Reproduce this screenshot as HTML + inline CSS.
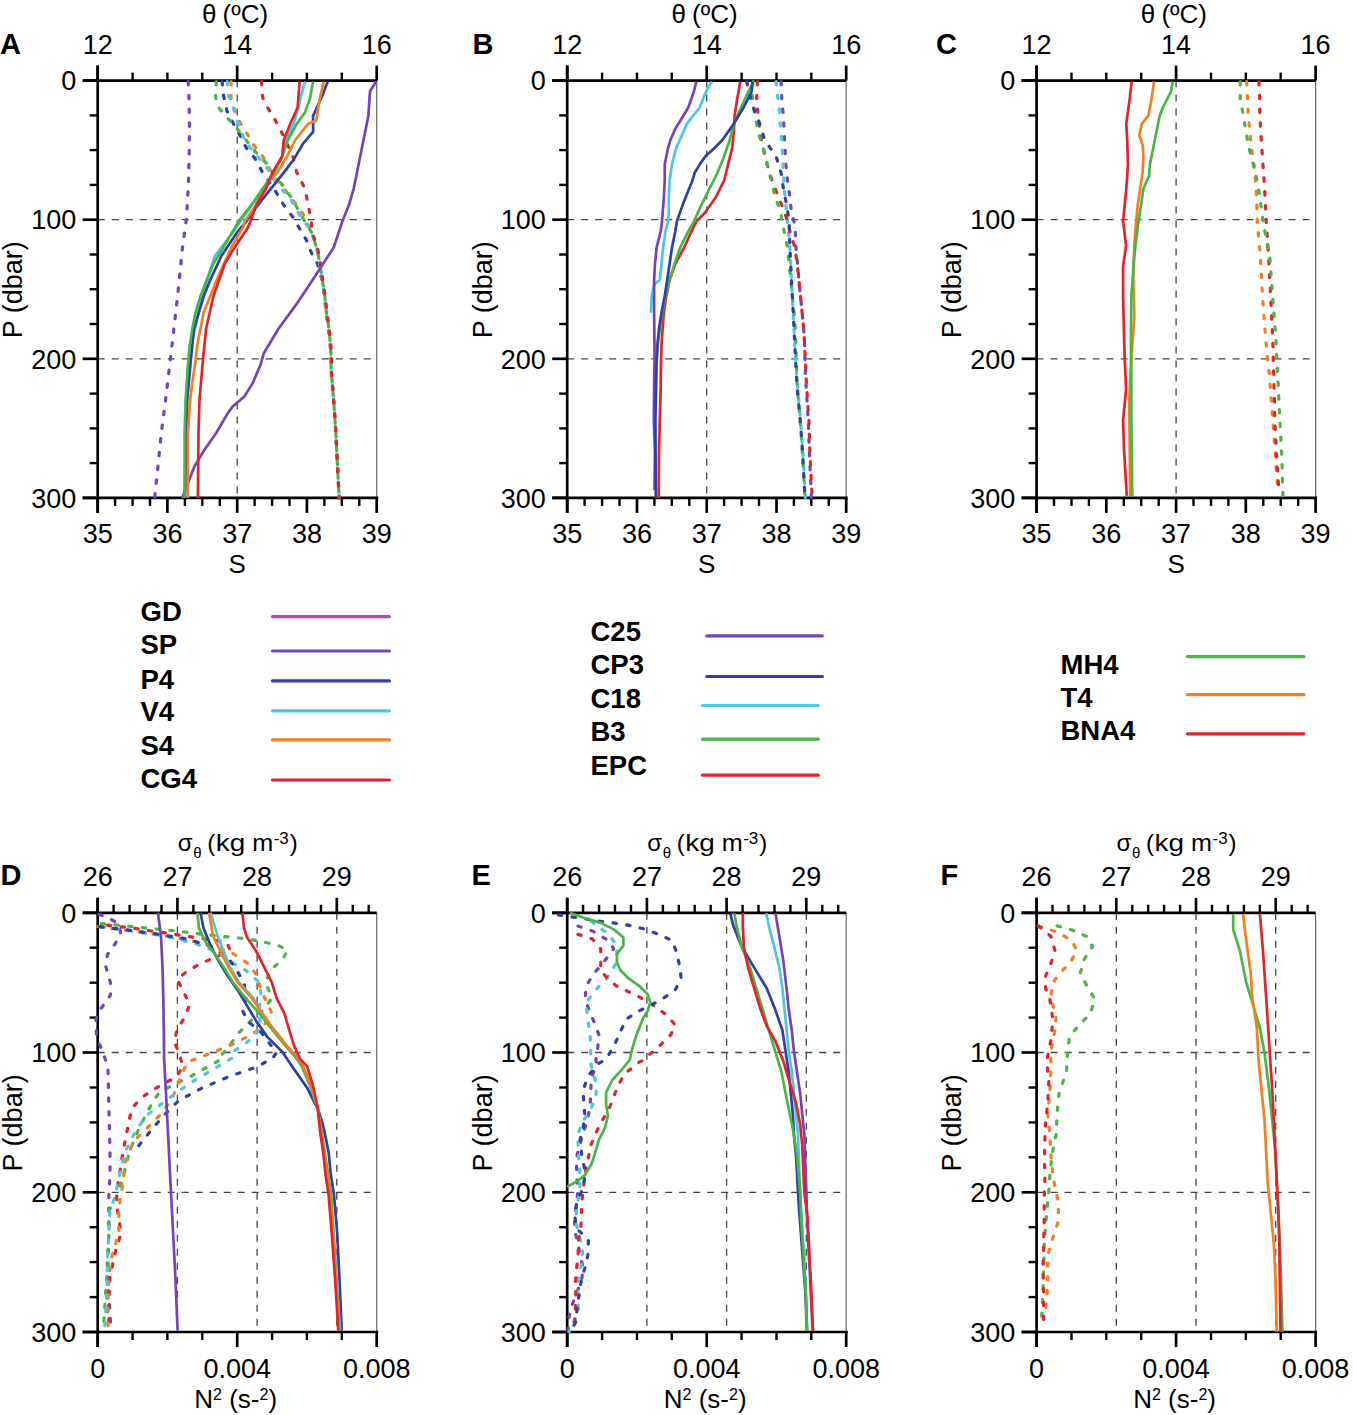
<!DOCTYPE html>
<html><head><meta charset="utf-8"><style>
html,body{margin:0;padding:0;background:#fff;width:1353px;height:1415px;overflow:hidden}
svg{display:block;font-family:"Liberation Sans", sans-serif}
</style></head><body><svg width="1353" height="1415" viewBox="0 0 1353 1415" font-family="Liberation Sans, sans-serif" fill="#000"><line x1="97.7" y1="219.7" x2="376.7" y2="219.7" stroke="#444" stroke-width="1.3" stroke-dasharray="7 7"/><line x1="97.7" y1="358.8" x2="376.7" y2="358.8" stroke="#444" stroke-width="1.3" stroke-dasharray="7 7"/><line x1="237.2" y1="80.6" x2="237.2" y2="497.9" stroke="#444" stroke-width="1.3" stroke-dasharray="7 7"/><line x1="376.7" y1="80.6" x2="376.7" y2="497.9" stroke="#666" stroke-width="1.2" /><line x1="82.7" y1="80.6" x2="376.7" y2="80.6" stroke="#000" stroke-width="2.7" /><line x1="82.7" y1="497.9" x2="378.2" y2="497.9" stroke="#000" stroke-width="2.7" /><line x1="97.7" y1="65.6" x2="97.7" y2="512.9" stroke="#000" stroke-width="2.7" /><line x1="97.7" y1="65.6" x2="97.7" y2="80.6" stroke="#000" stroke-width="2.7" /><line x1="132.6" y1="72.6" x2="132.6" y2="80.6" stroke="#000" stroke-width="2.4" /><line x1="167.4" y1="72.6" x2="167.4" y2="80.6" stroke="#000" stroke-width="2.4" /><line x1="202.3" y1="72.6" x2="202.3" y2="80.6" stroke="#000" stroke-width="2.4" /><line x1="237.2" y1="65.6" x2="237.2" y2="80.6" stroke="#000" stroke-width="2.7" /><line x1="272.1" y1="72.6" x2="272.1" y2="80.6" stroke="#000" stroke-width="2.4" /><line x1="306.9" y1="72.6" x2="306.9" y2="80.6" stroke="#000" stroke-width="2.4" /><line x1="341.8" y1="72.6" x2="341.8" y2="80.6" stroke="#000" stroke-width="2.4" /><line x1="376.7" y1="65.6" x2="376.7" y2="80.6" stroke="#000" stroke-width="2.7" /><line x1="97.7" y1="497.9" x2="97.7" y2="512.9" stroke="#000" stroke-width="2.7" /><line x1="115.1" y1="497.9" x2="115.1" y2="505.9" stroke="#000" stroke-width="2.4" /><line x1="132.6" y1="497.9" x2="132.6" y2="505.9" stroke="#000" stroke-width="2.4" /><line x1="150.0" y1="497.9" x2="150.0" y2="505.9" stroke="#000" stroke-width="2.4" /><line x1="167.4" y1="497.9" x2="167.4" y2="512.9" stroke="#000" stroke-width="2.7" /><line x1="184.9" y1="497.9" x2="184.9" y2="505.9" stroke="#000" stroke-width="2.4" /><line x1="202.3" y1="497.9" x2="202.3" y2="505.9" stroke="#000" stroke-width="2.4" /><line x1="219.8" y1="497.9" x2="219.8" y2="505.9" stroke="#000" stroke-width="2.4" /><line x1="237.2" y1="497.9" x2="237.2" y2="512.9" stroke="#000" stroke-width="2.7" /><line x1="254.6" y1="497.9" x2="254.6" y2="505.9" stroke="#000" stroke-width="2.4" /><line x1="272.1" y1="497.9" x2="272.1" y2="505.9" stroke="#000" stroke-width="2.4" /><line x1="289.5" y1="497.9" x2="289.5" y2="505.9" stroke="#000" stroke-width="2.4" /><line x1="306.9" y1="497.9" x2="306.9" y2="512.9" stroke="#000" stroke-width="2.7" /><line x1="324.4" y1="497.9" x2="324.4" y2="505.9" stroke="#000" stroke-width="2.4" /><line x1="341.8" y1="497.9" x2="341.8" y2="505.9" stroke="#000" stroke-width="2.4" /><line x1="359.3" y1="497.9" x2="359.3" y2="505.9" stroke="#000" stroke-width="2.4" /><line x1="376.7" y1="497.9" x2="376.7" y2="512.9" stroke="#000" stroke-width="2.7" /><line x1="82.7" y1="80.6" x2="97.7" y2="80.6" stroke="#000" stroke-width="2.7" /><line x1="89.7" y1="115.4" x2="97.7" y2="115.4" stroke="#000" stroke-width="2.4" /><line x1="89.7" y1="150.1" x2="97.7" y2="150.1" stroke="#000" stroke-width="2.4" /><line x1="89.7" y1="184.9" x2="97.7" y2="184.9" stroke="#000" stroke-width="2.4" /><line x1="82.7" y1="219.7" x2="97.7" y2="219.7" stroke="#000" stroke-width="2.7" /><line x1="89.7" y1="254.5" x2="97.7" y2="254.5" stroke="#000" stroke-width="2.4" /><line x1="89.7" y1="289.2" x2="97.7" y2="289.2" stroke="#000" stroke-width="2.4" /><line x1="89.7" y1="324.0" x2="97.7" y2="324.0" stroke="#000" stroke-width="2.4" /><line x1="82.7" y1="358.8" x2="97.7" y2="358.8" stroke="#000" stroke-width="2.7" /><line x1="89.7" y1="393.6" x2="97.7" y2="393.6" stroke="#000" stroke-width="2.4" /><line x1="89.7" y1="428.4" x2="97.7" y2="428.4" stroke="#000" stroke-width="2.4" /><line x1="89.7" y1="463.1" x2="97.7" y2="463.1" stroke="#000" stroke-width="2.4" /><line x1="82.7" y1="497.9" x2="97.7" y2="497.9" stroke="#000" stroke-width="2.7" /><text x="201.9" y="23.2" font-size="26" text-anchor="start" font-weight="normal" >θ</text><text x="222.5" y="23.3" font-size="26" text-anchor="start" font-weight="normal" >(ºC)</text><text x="97.7" y="53.7" font-size="27" text-anchor="middle" font-weight="normal" >12</text><text x="237.2" y="53.7" font-size="27" text-anchor="middle" font-weight="normal" >14</text><text x="376.7" y="53.7" font-size="27" text-anchor="middle" font-weight="normal" >16</text><text x="76.4" y="90.3" font-size="27" text-anchor="end" font-weight="normal" >0</text><text x="76.4" y="229.4" font-size="27" text-anchor="end" font-weight="normal" >100</text><text x="76.4" y="368.5" font-size="27" text-anchor="end" font-weight="normal" >200</text><text x="76.4" y="507.6" font-size="27" text-anchor="end" font-weight="normal" >300</text><text x="97.7" y="543.4" font-size="27" text-anchor="middle" font-weight="normal" >35</text><text x="167.4" y="543.4" font-size="27" text-anchor="middle" font-weight="normal" >36</text><text x="237.2" y="543.4" font-size="27" text-anchor="middle" font-weight="normal" >37</text><text x="306.9" y="543.4" font-size="27" text-anchor="middle" font-weight="normal" >38</text><text x="376.7" y="543.4" font-size="27" text-anchor="middle" font-weight="normal" >39</text><text x="237.2" y="573.4" font-size="26" text-anchor="middle" font-weight="normal" >S</text><text x="0" y="0" font-size="27" text-anchor="middle" transform="translate(22.4,289.8) rotate(-90)">P (dbar)</text><text x="0.0" y="54.0" font-size="29" text-anchor="start" font-weight="bold" >A</text><line x1="567.2" y1="219.7" x2="846.2" y2="219.7" stroke="#444" stroke-width="1.3" stroke-dasharray="7 7"/><line x1="567.2" y1="358.8" x2="846.2" y2="358.8" stroke="#444" stroke-width="1.3" stroke-dasharray="7 7"/><line x1="706.7" y1="80.6" x2="706.7" y2="497.9" stroke="#444" stroke-width="1.3" stroke-dasharray="7 7"/><line x1="846.2" y1="80.6" x2="846.2" y2="497.9" stroke="#666" stroke-width="1.2" /><line x1="552.2" y1="80.6" x2="846.2" y2="80.6" stroke="#000" stroke-width="2.7" /><line x1="552.2" y1="497.9" x2="847.7" y2="497.9" stroke="#000" stroke-width="2.7" /><line x1="567.2" y1="65.6" x2="567.2" y2="512.9" stroke="#000" stroke-width="2.7" /><line x1="567.2" y1="65.6" x2="567.2" y2="80.6" stroke="#000" stroke-width="2.7" /><line x1="602.1" y1="72.6" x2="602.1" y2="80.6" stroke="#000" stroke-width="2.4" /><line x1="637.0" y1="72.6" x2="637.0" y2="80.6" stroke="#000" stroke-width="2.4" /><line x1="671.8" y1="72.6" x2="671.8" y2="80.6" stroke="#000" stroke-width="2.4" /><line x1="706.7" y1="65.6" x2="706.7" y2="80.6" stroke="#000" stroke-width="2.7" /><line x1="741.6" y1="72.6" x2="741.6" y2="80.6" stroke="#000" stroke-width="2.4" /><line x1="776.5" y1="72.6" x2="776.5" y2="80.6" stroke="#000" stroke-width="2.4" /><line x1="811.3" y1="72.6" x2="811.3" y2="80.6" stroke="#000" stroke-width="2.4" /><line x1="846.2" y1="65.6" x2="846.2" y2="80.6" stroke="#000" stroke-width="2.7" /><line x1="567.2" y1="497.9" x2="567.2" y2="512.9" stroke="#000" stroke-width="2.7" /><line x1="584.6" y1="497.9" x2="584.6" y2="505.9" stroke="#000" stroke-width="2.4" /><line x1="602.1" y1="497.9" x2="602.1" y2="505.9" stroke="#000" stroke-width="2.4" /><line x1="619.5" y1="497.9" x2="619.5" y2="505.9" stroke="#000" stroke-width="2.4" /><line x1="637.0" y1="497.9" x2="637.0" y2="512.9" stroke="#000" stroke-width="2.7" /><line x1="654.4" y1="497.9" x2="654.4" y2="505.9" stroke="#000" stroke-width="2.4" /><line x1="671.8" y1="497.9" x2="671.8" y2="505.9" stroke="#000" stroke-width="2.4" /><line x1="689.3" y1="497.9" x2="689.3" y2="505.9" stroke="#000" stroke-width="2.4" /><line x1="706.7" y1="497.9" x2="706.7" y2="512.9" stroke="#000" stroke-width="2.7" /><line x1="724.1" y1="497.9" x2="724.1" y2="505.9" stroke="#000" stroke-width="2.4" /><line x1="741.6" y1="497.9" x2="741.6" y2="505.9" stroke="#000" stroke-width="2.4" /><line x1="759.0" y1="497.9" x2="759.0" y2="505.9" stroke="#000" stroke-width="2.4" /><line x1="776.5" y1="497.9" x2="776.5" y2="512.9" stroke="#000" stroke-width="2.7" /><line x1="793.9" y1="497.9" x2="793.9" y2="505.9" stroke="#000" stroke-width="2.4" /><line x1="811.3" y1="497.9" x2="811.3" y2="505.9" stroke="#000" stroke-width="2.4" /><line x1="828.8" y1="497.9" x2="828.8" y2="505.9" stroke="#000" stroke-width="2.4" /><line x1="846.2" y1="497.9" x2="846.2" y2="512.9" stroke="#000" stroke-width="2.7" /><line x1="552.2" y1="80.6" x2="567.2" y2="80.6" stroke="#000" stroke-width="2.7" /><line x1="559.2" y1="115.4" x2="567.2" y2="115.4" stroke="#000" stroke-width="2.4" /><line x1="559.2" y1="150.1" x2="567.2" y2="150.1" stroke="#000" stroke-width="2.4" /><line x1="559.2" y1="184.9" x2="567.2" y2="184.9" stroke="#000" stroke-width="2.4" /><line x1="552.2" y1="219.7" x2="567.2" y2="219.7" stroke="#000" stroke-width="2.7" /><line x1="559.2" y1="254.5" x2="567.2" y2="254.5" stroke="#000" stroke-width="2.4" /><line x1="559.2" y1="289.2" x2="567.2" y2="289.2" stroke="#000" stroke-width="2.4" /><line x1="559.2" y1="324.0" x2="567.2" y2="324.0" stroke="#000" stroke-width="2.4" /><line x1="552.2" y1="358.8" x2="567.2" y2="358.8" stroke="#000" stroke-width="2.7" /><line x1="559.2" y1="393.6" x2="567.2" y2="393.6" stroke="#000" stroke-width="2.4" /><line x1="559.2" y1="428.4" x2="567.2" y2="428.4" stroke="#000" stroke-width="2.4" /><line x1="559.2" y1="463.1" x2="567.2" y2="463.1" stroke="#000" stroke-width="2.4" /><line x1="552.2" y1="497.9" x2="567.2" y2="497.9" stroke="#000" stroke-width="2.7" /><text x="671.4" y="23.2" font-size="26" text-anchor="start" font-weight="normal" >θ</text><text x="692.0" y="23.3" font-size="26" text-anchor="start" font-weight="normal" >(ºC)</text><text x="567.2" y="53.7" font-size="27" text-anchor="middle" font-weight="normal" >12</text><text x="706.7" y="53.7" font-size="27" text-anchor="middle" font-weight="normal" >14</text><text x="846.2" y="53.7" font-size="27" text-anchor="middle" font-weight="normal" >16</text><text x="545.9" y="90.3" font-size="27" text-anchor="end" font-weight="normal" >0</text><text x="545.9" y="229.4" font-size="27" text-anchor="end" font-weight="normal" >100</text><text x="545.9" y="368.5" font-size="27" text-anchor="end" font-weight="normal" >200</text><text x="545.9" y="507.6" font-size="27" text-anchor="end" font-weight="normal" >300</text><text x="567.2" y="543.4" font-size="27" text-anchor="middle" font-weight="normal" >35</text><text x="637.0" y="543.4" font-size="27" text-anchor="middle" font-weight="normal" >36</text><text x="706.7" y="543.4" font-size="27" text-anchor="middle" font-weight="normal" >37</text><text x="776.5" y="543.4" font-size="27" text-anchor="middle" font-weight="normal" >38</text><text x="846.2" y="543.4" font-size="27" text-anchor="middle" font-weight="normal" >39</text><text x="706.7" y="573.4" font-size="26" text-anchor="middle" font-weight="normal" >S</text><text x="0" y="0" font-size="27" text-anchor="middle" transform="translate(491.9,289.8) rotate(-90)">P (dbar)</text><text x="472.5" y="54.0" font-size="29" text-anchor="start" font-weight="bold" >B</text><line x1="1036.6" y1="219.7" x2="1315.6" y2="219.7" stroke="#444" stroke-width="1.3" stroke-dasharray="7 7"/><line x1="1036.6" y1="358.8" x2="1315.6" y2="358.8" stroke="#444" stroke-width="1.3" stroke-dasharray="7 7"/><line x1="1176.1" y1="80.6" x2="1176.1" y2="497.9" stroke="#444" stroke-width="1.3" stroke-dasharray="7 7"/><line x1="1315.6" y1="80.6" x2="1315.6" y2="497.9" stroke="#666" stroke-width="1.2" /><line x1="1021.6" y1="80.6" x2="1315.6" y2="80.6" stroke="#000" stroke-width="2.7" /><line x1="1021.6" y1="497.9" x2="1317.1" y2="497.9" stroke="#000" stroke-width="2.7" /><line x1="1036.6" y1="65.6" x2="1036.6" y2="512.9" stroke="#000" stroke-width="2.7" /><line x1="1036.6" y1="65.6" x2="1036.6" y2="80.6" stroke="#000" stroke-width="2.7" /><line x1="1071.5" y1="72.6" x2="1071.5" y2="80.6" stroke="#000" stroke-width="2.4" /><line x1="1106.3" y1="72.6" x2="1106.3" y2="80.6" stroke="#000" stroke-width="2.4" /><line x1="1141.2" y1="72.6" x2="1141.2" y2="80.6" stroke="#000" stroke-width="2.4" /><line x1="1176.1" y1="65.6" x2="1176.1" y2="80.6" stroke="#000" stroke-width="2.7" /><line x1="1211.0" y1="72.6" x2="1211.0" y2="80.6" stroke="#000" stroke-width="2.4" /><line x1="1245.8" y1="72.6" x2="1245.8" y2="80.6" stroke="#000" stroke-width="2.4" /><line x1="1280.7" y1="72.6" x2="1280.7" y2="80.6" stroke="#000" stroke-width="2.4" /><line x1="1315.6" y1="65.6" x2="1315.6" y2="80.6" stroke="#000" stroke-width="2.7" /><line x1="1036.6" y1="497.9" x2="1036.6" y2="512.9" stroke="#000" stroke-width="2.7" /><line x1="1054.0" y1="497.9" x2="1054.0" y2="505.9" stroke="#000" stroke-width="2.4" /><line x1="1071.5" y1="497.9" x2="1071.5" y2="505.9" stroke="#000" stroke-width="2.4" /><line x1="1088.9" y1="497.9" x2="1088.9" y2="505.9" stroke="#000" stroke-width="2.4" /><line x1="1106.3" y1="497.9" x2="1106.3" y2="512.9" stroke="#000" stroke-width="2.7" /><line x1="1123.8" y1="497.9" x2="1123.8" y2="505.9" stroke="#000" stroke-width="2.4" /><line x1="1141.2" y1="497.9" x2="1141.2" y2="505.9" stroke="#000" stroke-width="2.4" /><line x1="1158.7" y1="497.9" x2="1158.7" y2="505.9" stroke="#000" stroke-width="2.4" /><line x1="1176.1" y1="497.9" x2="1176.1" y2="512.9" stroke="#000" stroke-width="2.7" /><line x1="1193.5" y1="497.9" x2="1193.5" y2="505.9" stroke="#000" stroke-width="2.4" /><line x1="1211.0" y1="497.9" x2="1211.0" y2="505.9" stroke="#000" stroke-width="2.4" /><line x1="1228.4" y1="497.9" x2="1228.4" y2="505.9" stroke="#000" stroke-width="2.4" /><line x1="1245.8" y1="497.9" x2="1245.8" y2="512.9" stroke="#000" stroke-width="2.7" /><line x1="1263.3" y1="497.9" x2="1263.3" y2="505.9" stroke="#000" stroke-width="2.4" /><line x1="1280.7" y1="497.9" x2="1280.7" y2="505.9" stroke="#000" stroke-width="2.4" /><line x1="1298.2" y1="497.9" x2="1298.2" y2="505.9" stroke="#000" stroke-width="2.4" /><line x1="1315.6" y1="497.9" x2="1315.6" y2="512.9" stroke="#000" stroke-width="2.7" /><line x1="1021.6" y1="80.6" x2="1036.6" y2="80.6" stroke="#000" stroke-width="2.7" /><line x1="1028.6" y1="115.4" x2="1036.6" y2="115.4" stroke="#000" stroke-width="2.4" /><line x1="1028.6" y1="150.1" x2="1036.6" y2="150.1" stroke="#000" stroke-width="2.4" /><line x1="1028.6" y1="184.9" x2="1036.6" y2="184.9" stroke="#000" stroke-width="2.4" /><line x1="1021.6" y1="219.7" x2="1036.6" y2="219.7" stroke="#000" stroke-width="2.7" /><line x1="1028.6" y1="254.5" x2="1036.6" y2="254.5" stroke="#000" stroke-width="2.4" /><line x1="1028.6" y1="289.2" x2="1036.6" y2="289.2" stroke="#000" stroke-width="2.4" /><line x1="1028.6" y1="324.0" x2="1036.6" y2="324.0" stroke="#000" stroke-width="2.4" /><line x1="1021.6" y1="358.8" x2="1036.6" y2="358.8" stroke="#000" stroke-width="2.7" /><line x1="1028.6" y1="393.6" x2="1036.6" y2="393.6" stroke="#000" stroke-width="2.4" /><line x1="1028.6" y1="428.4" x2="1036.6" y2="428.4" stroke="#000" stroke-width="2.4" /><line x1="1028.6" y1="463.1" x2="1036.6" y2="463.1" stroke="#000" stroke-width="2.4" /><line x1="1021.6" y1="497.9" x2="1036.6" y2="497.9" stroke="#000" stroke-width="2.7" /><text x="1140.8" y="23.2" font-size="26" text-anchor="start" font-weight="normal" >θ</text><text x="1161.4" y="23.3" font-size="26" text-anchor="start" font-weight="normal" >(ºC)</text><text x="1036.6" y="53.7" font-size="27" text-anchor="middle" font-weight="normal" >12</text><text x="1176.1" y="53.7" font-size="27" text-anchor="middle" font-weight="normal" >14</text><text x="1315.6" y="53.7" font-size="27" text-anchor="middle" font-weight="normal" >16</text><text x="1015.3" y="90.3" font-size="27" text-anchor="end" font-weight="normal" >0</text><text x="1015.3" y="229.4" font-size="27" text-anchor="end" font-weight="normal" >100</text><text x="1015.3" y="368.5" font-size="27" text-anchor="end" font-weight="normal" >200</text><text x="1015.3" y="507.6" font-size="27" text-anchor="end" font-weight="normal" >300</text><text x="1036.6" y="543.4" font-size="27" text-anchor="middle" font-weight="normal" >35</text><text x="1106.3" y="543.4" font-size="27" text-anchor="middle" font-weight="normal" >36</text><text x="1176.1" y="543.4" font-size="27" text-anchor="middle" font-weight="normal" >37</text><text x="1245.8" y="543.4" font-size="27" text-anchor="middle" font-weight="normal" >38</text><text x="1315.6" y="543.4" font-size="27" text-anchor="middle" font-weight="normal" >39</text><text x="1176.1" y="573.4" font-size="26" text-anchor="middle" font-weight="normal" >S</text><text x="0" y="0" font-size="27" text-anchor="middle" transform="translate(961.3,289.8) rotate(-90)">P (dbar)</text><text x="936.0" y="54.0" font-size="29" text-anchor="start" font-weight="bold" >C</text><line x1="97.7" y1="1052.5" x2="376.7" y2="1052.5" stroke="#444" stroke-width="1.3" stroke-dasharray="7 7"/><line x1="97.7" y1="1192.3" x2="376.7" y2="1192.3" stroke="#444" stroke-width="1.3" stroke-dasharray="7 7"/><line x1="177.4" y1="912.8" x2="177.4" y2="1332.0" stroke="#444" stroke-width="1.3" stroke-dasharray="7 7"/><line x1="257.1" y1="912.8" x2="257.1" y2="1332.0" stroke="#444" stroke-width="1.3" stroke-dasharray="7 7"/><line x1="336.8" y1="912.8" x2="336.8" y2="1332.0" stroke="#444" stroke-width="1.3" stroke-dasharray="7 7"/><line x1="376.7" y1="912.8" x2="376.7" y2="1332.0" stroke="#666" stroke-width="1.2" /><line x1="82.7" y1="912.8" x2="376.7" y2="912.8" stroke="#000" stroke-width="2.7" /><line x1="82.7" y1="1332.0" x2="378.2" y2="1332.0" stroke="#000" stroke-width="2.7" /><line x1="97.7" y1="897.8" x2="97.7" y2="1347.0" stroke="#000" stroke-width="2.7" /><line x1="97.7" y1="897.8" x2="97.7" y2="912.8" stroke="#000" stroke-width="2.7" /><line x1="113.6" y1="904.8" x2="113.6" y2="912.8" stroke="#000" stroke-width="2.4" /><line x1="129.6" y1="904.8" x2="129.6" y2="912.8" stroke="#000" stroke-width="2.4" /><line x1="145.5" y1="904.8" x2="145.5" y2="912.8" stroke="#000" stroke-width="2.4" /><line x1="161.5" y1="904.8" x2="161.5" y2="912.8" stroke="#000" stroke-width="2.4" /><line x1="177.4" y1="897.8" x2="177.4" y2="912.8" stroke="#000" stroke-width="2.7" /><line x1="193.4" y1="904.8" x2="193.4" y2="912.8" stroke="#000" stroke-width="2.4" /><line x1="209.3" y1="904.8" x2="209.3" y2="912.8" stroke="#000" stroke-width="2.4" /><line x1="225.2" y1="904.8" x2="225.2" y2="912.8" stroke="#000" stroke-width="2.4" /><line x1="241.2" y1="904.8" x2="241.2" y2="912.8" stroke="#000" stroke-width="2.4" /><line x1="257.1" y1="897.8" x2="257.1" y2="912.8" stroke="#000" stroke-width="2.7" /><line x1="273.1" y1="904.8" x2="273.1" y2="912.8" stroke="#000" stroke-width="2.4" /><line x1="289.0" y1="904.8" x2="289.0" y2="912.8" stroke="#000" stroke-width="2.4" /><line x1="305.0" y1="904.8" x2="305.0" y2="912.8" stroke="#000" stroke-width="2.4" /><line x1="320.9" y1="904.8" x2="320.9" y2="912.8" stroke="#000" stroke-width="2.4" /><line x1="336.8" y1="897.8" x2="336.8" y2="912.8" stroke="#000" stroke-width="2.7" /><line x1="352.8" y1="904.8" x2="352.8" y2="912.8" stroke="#000" stroke-width="2.4" /><line x1="368.7" y1="904.8" x2="368.7" y2="912.8" stroke="#000" stroke-width="2.4" /><line x1="97.7" y1="1332.0" x2="97.7" y2="1347.0" stroke="#000" stroke-width="2.7" /><line x1="132.6" y1="1332.0" x2="132.6" y2="1340.0" stroke="#000" stroke-width="2.4" /><line x1="167.4" y1="1332.0" x2="167.4" y2="1340.0" stroke="#000" stroke-width="2.4" /><line x1="202.3" y1="1332.0" x2="202.3" y2="1340.0" stroke="#000" stroke-width="2.4" /><line x1="237.2" y1="1332.0" x2="237.2" y2="1347.0" stroke="#000" stroke-width="2.7" /><line x1="272.1" y1="1332.0" x2="272.1" y2="1340.0" stroke="#000" stroke-width="2.4" /><line x1="306.9" y1="1332.0" x2="306.9" y2="1340.0" stroke="#000" stroke-width="2.4" /><line x1="341.8" y1="1332.0" x2="341.8" y2="1340.0" stroke="#000" stroke-width="2.4" /><line x1="376.7" y1="1332.0" x2="376.7" y2="1347.0" stroke="#000" stroke-width="2.7" /><line x1="82.7" y1="912.8" x2="97.7" y2="912.8" stroke="#000" stroke-width="2.7" /><line x1="89.7" y1="947.7" x2="97.7" y2="947.7" stroke="#000" stroke-width="2.4" /><line x1="89.7" y1="982.7" x2="97.7" y2="982.7" stroke="#000" stroke-width="2.4" /><line x1="89.7" y1="1017.6" x2="97.7" y2="1017.6" stroke="#000" stroke-width="2.4" /><line x1="82.7" y1="1052.5" x2="97.7" y2="1052.5" stroke="#000" stroke-width="2.7" /><line x1="89.7" y1="1087.5" x2="97.7" y2="1087.5" stroke="#000" stroke-width="2.4" /><line x1="89.7" y1="1122.4" x2="97.7" y2="1122.4" stroke="#000" stroke-width="2.4" /><line x1="89.7" y1="1157.3" x2="97.7" y2="1157.3" stroke="#000" stroke-width="2.4" /><line x1="82.7" y1="1192.3" x2="97.7" y2="1192.3" stroke="#000" stroke-width="2.7" /><line x1="89.7" y1="1227.2" x2="97.7" y2="1227.2" stroke="#000" stroke-width="2.4" /><line x1="89.7" y1="1262.1" x2="97.7" y2="1262.1" stroke="#000" stroke-width="2.4" /><line x1="89.7" y1="1297.1" x2="97.7" y2="1297.1" stroke="#000" stroke-width="2.4" /><line x1="82.7" y1="1332.0" x2="97.7" y2="1332.0" stroke="#000" stroke-width="2.7" /><text x="177.7" y="851.4" font-size="24" text-anchor="start" font-weight="normal" >σ</text><text x="193.2" y="857.6" font-size="15" text-anchor="start" font-weight="normal" >θ</text><text x="207.2" y="851.4" font-size="24" text-anchor="start" font-weight="normal" >(</text><text x="215.7" y="851.4" font-size="24" text-anchor="start" font-weight="normal" textLength="29.5" lengthAdjust="spacingAndGlyphs">kg</text><text x="252.2" y="851.4" font-size="24" text-anchor="start" font-weight="normal" textLength="21" lengthAdjust="spacingAndGlyphs">m</text><text x="273.7" y="843.6" font-size="17" text-anchor="start" font-weight="normal" >-3</text><text x="289.7" y="851.4" font-size="24" text-anchor="start" font-weight="normal" >)</text><text x="97.7" y="886.2" font-size="27" text-anchor="middle" font-weight="normal" >26</text><text x="177.4" y="886.2" font-size="27" text-anchor="middle" font-weight="normal" >27</text><text x="257.1" y="886.2" font-size="27" text-anchor="middle" font-weight="normal" >28</text><text x="336.8" y="886.2" font-size="27" text-anchor="middle" font-weight="normal" >29</text><text x="76.4" y="922.5" font-size="27" text-anchor="end" font-weight="normal" >0</text><text x="76.4" y="1062.2" font-size="27" text-anchor="end" font-weight="normal" >100</text><text x="76.4" y="1202.0" font-size="27" text-anchor="end" font-weight="normal" >200</text><text x="76.4" y="1341.7" font-size="27" text-anchor="end" font-weight="normal" >300</text><text x="97.7" y="1377.7" font-size="27" text-anchor="middle" font-weight="normal" >0</text><text x="237.2" y="1377.7" font-size="27" text-anchor="middle" font-weight="normal" >0.004</text><text x="376.7" y="1377.7" font-size="27" text-anchor="middle" font-weight="normal" >0.008</text><text x="235.7" y="1408.3" font-size="26" text-anchor="middle">N<tspan font-size="16" dy="-8.5">2</tspan><tspan dy="8.5"> (s-</tspan><tspan font-size="16" dy="-8.5">2</tspan><tspan dy="8.5">)</tspan></text><text x="0" y="0" font-size="27" text-anchor="middle" transform="translate(22.4,1122.9) rotate(-90)">P (dbar)</text><text x="0.5" y="884.8" font-size="29" text-anchor="start" font-weight="bold" >D</text><line x1="567.2" y1="1052.5" x2="846.2" y2="1052.5" stroke="#444" stroke-width="1.3" stroke-dasharray="7 7"/><line x1="567.2" y1="1192.3" x2="846.2" y2="1192.3" stroke="#444" stroke-width="1.3" stroke-dasharray="7 7"/><line x1="646.9" y1="912.8" x2="646.9" y2="1332.0" stroke="#444" stroke-width="1.3" stroke-dasharray="7 7"/><line x1="726.6" y1="912.8" x2="726.6" y2="1332.0" stroke="#444" stroke-width="1.3" stroke-dasharray="7 7"/><line x1="806.3" y1="912.8" x2="806.3" y2="1332.0" stroke="#444" stroke-width="1.3" stroke-dasharray="7 7"/><line x1="846.2" y1="912.8" x2="846.2" y2="1332.0" stroke="#666" stroke-width="1.2" /><line x1="552.2" y1="912.8" x2="846.2" y2="912.8" stroke="#000" stroke-width="2.7" /><line x1="552.2" y1="1332.0" x2="847.7" y2="1332.0" stroke="#000" stroke-width="2.7" /><line x1="567.2" y1="897.8" x2="567.2" y2="1347.0" stroke="#000" stroke-width="2.7" /><line x1="567.2" y1="897.8" x2="567.2" y2="912.8" stroke="#000" stroke-width="2.7" /><line x1="583.1" y1="904.8" x2="583.1" y2="912.8" stroke="#000" stroke-width="2.4" /><line x1="599.1" y1="904.8" x2="599.1" y2="912.8" stroke="#000" stroke-width="2.4" /><line x1="615.0" y1="904.8" x2="615.0" y2="912.8" stroke="#000" stroke-width="2.4" /><line x1="631.0" y1="904.8" x2="631.0" y2="912.8" stroke="#000" stroke-width="2.4" /><line x1="646.9" y1="897.8" x2="646.9" y2="912.8" stroke="#000" stroke-width="2.7" /><line x1="662.9" y1="904.8" x2="662.9" y2="912.8" stroke="#000" stroke-width="2.4" /><line x1="678.8" y1="904.8" x2="678.8" y2="912.8" stroke="#000" stroke-width="2.4" /><line x1="694.7" y1="904.8" x2="694.7" y2="912.8" stroke="#000" stroke-width="2.4" /><line x1="710.7" y1="904.8" x2="710.7" y2="912.8" stroke="#000" stroke-width="2.4" /><line x1="726.6" y1="897.8" x2="726.6" y2="912.8" stroke="#000" stroke-width="2.7" /><line x1="742.6" y1="904.8" x2="742.6" y2="912.8" stroke="#000" stroke-width="2.4" /><line x1="758.5" y1="904.8" x2="758.5" y2="912.8" stroke="#000" stroke-width="2.4" /><line x1="774.5" y1="904.8" x2="774.5" y2="912.8" stroke="#000" stroke-width="2.4" /><line x1="790.4" y1="904.8" x2="790.4" y2="912.8" stroke="#000" stroke-width="2.4" /><line x1="806.3" y1="897.8" x2="806.3" y2="912.8" stroke="#000" stroke-width="2.7" /><line x1="822.3" y1="904.8" x2="822.3" y2="912.8" stroke="#000" stroke-width="2.4" /><line x1="838.2" y1="904.8" x2="838.2" y2="912.8" stroke="#000" stroke-width="2.4" /><line x1="567.2" y1="1332.0" x2="567.2" y2="1347.0" stroke="#000" stroke-width="2.7" /><line x1="602.1" y1="1332.0" x2="602.1" y2="1340.0" stroke="#000" stroke-width="2.4" /><line x1="637.0" y1="1332.0" x2="637.0" y2="1340.0" stroke="#000" stroke-width="2.4" /><line x1="671.8" y1="1332.0" x2="671.8" y2="1340.0" stroke="#000" stroke-width="2.4" /><line x1="706.7" y1="1332.0" x2="706.7" y2="1347.0" stroke="#000" stroke-width="2.7" /><line x1="741.6" y1="1332.0" x2="741.6" y2="1340.0" stroke="#000" stroke-width="2.4" /><line x1="776.5" y1="1332.0" x2="776.5" y2="1340.0" stroke="#000" stroke-width="2.4" /><line x1="811.3" y1="1332.0" x2="811.3" y2="1340.0" stroke="#000" stroke-width="2.4" /><line x1="846.2" y1="1332.0" x2="846.2" y2="1347.0" stroke="#000" stroke-width="2.7" /><line x1="552.2" y1="912.8" x2="567.2" y2="912.8" stroke="#000" stroke-width="2.7" /><line x1="559.2" y1="947.7" x2="567.2" y2="947.7" stroke="#000" stroke-width="2.4" /><line x1="559.2" y1="982.7" x2="567.2" y2="982.7" stroke="#000" stroke-width="2.4" /><line x1="559.2" y1="1017.6" x2="567.2" y2="1017.6" stroke="#000" stroke-width="2.4" /><line x1="552.2" y1="1052.5" x2="567.2" y2="1052.5" stroke="#000" stroke-width="2.7" /><line x1="559.2" y1="1087.5" x2="567.2" y2="1087.5" stroke="#000" stroke-width="2.4" /><line x1="559.2" y1="1122.4" x2="567.2" y2="1122.4" stroke="#000" stroke-width="2.4" /><line x1="559.2" y1="1157.3" x2="567.2" y2="1157.3" stroke="#000" stroke-width="2.4" /><line x1="552.2" y1="1192.3" x2="567.2" y2="1192.3" stroke="#000" stroke-width="2.7" /><line x1="559.2" y1="1227.2" x2="567.2" y2="1227.2" stroke="#000" stroke-width="2.4" /><line x1="559.2" y1="1262.1" x2="567.2" y2="1262.1" stroke="#000" stroke-width="2.4" /><line x1="559.2" y1="1297.1" x2="567.2" y2="1297.1" stroke="#000" stroke-width="2.4" /><line x1="552.2" y1="1332.0" x2="567.2" y2="1332.0" stroke="#000" stroke-width="2.7" /><text x="647.2" y="851.4" font-size="24" text-anchor="start" font-weight="normal" >σ</text><text x="662.7" y="857.6" font-size="15" text-anchor="start" font-weight="normal" >θ</text><text x="676.7" y="851.4" font-size="24" text-anchor="start" font-weight="normal" >(</text><text x="685.2" y="851.4" font-size="24" text-anchor="start" font-weight="normal" textLength="29.5" lengthAdjust="spacingAndGlyphs">kg</text><text x="721.7" y="851.4" font-size="24" text-anchor="start" font-weight="normal" textLength="21" lengthAdjust="spacingAndGlyphs">m</text><text x="743.2" y="843.6" font-size="17" text-anchor="start" font-weight="normal" >-3</text><text x="759.2" y="851.4" font-size="24" text-anchor="start" font-weight="normal" >)</text><text x="567.2" y="886.2" font-size="27" text-anchor="middle" font-weight="normal" >26</text><text x="646.9" y="886.2" font-size="27" text-anchor="middle" font-weight="normal" >27</text><text x="726.6" y="886.2" font-size="27" text-anchor="middle" font-weight="normal" >28</text><text x="806.3" y="886.2" font-size="27" text-anchor="middle" font-weight="normal" >29</text><text x="545.9" y="922.5" font-size="27" text-anchor="end" font-weight="normal" >0</text><text x="545.9" y="1062.2" font-size="27" text-anchor="end" font-weight="normal" >100</text><text x="545.9" y="1202.0" font-size="27" text-anchor="end" font-weight="normal" >200</text><text x="545.9" y="1341.7" font-size="27" text-anchor="end" font-weight="normal" >300</text><text x="567.2" y="1377.7" font-size="27" text-anchor="middle" font-weight="normal" >0</text><text x="706.7" y="1377.7" font-size="27" text-anchor="middle" font-weight="normal" >0.004</text><text x="846.2" y="1377.7" font-size="27" text-anchor="middle" font-weight="normal" >0.008</text><text x="705.2" y="1408.3" font-size="26" text-anchor="middle">N<tspan font-size="16" dy="-8.5">2</tspan><tspan dy="8.5"> (s-</tspan><tspan font-size="16" dy="-8.5">2</tspan><tspan dy="8.5">)</tspan></text><text x="0" y="0" font-size="27" text-anchor="middle" transform="translate(491.9,1122.9) rotate(-90)">P (dbar)</text><text x="471.5" y="884.8" font-size="29" text-anchor="start" font-weight="bold" >E</text><line x1="1036.6" y1="1052.5" x2="1315.6" y2="1052.5" stroke="#444" stroke-width="1.3" stroke-dasharray="7 7"/><line x1="1036.6" y1="1192.3" x2="1315.6" y2="1192.3" stroke="#444" stroke-width="1.3" stroke-dasharray="7 7"/><line x1="1116.3" y1="912.8" x2="1116.3" y2="1332.0" stroke="#444" stroke-width="1.3" stroke-dasharray="7 7"/><line x1="1196.0" y1="912.8" x2="1196.0" y2="1332.0" stroke="#444" stroke-width="1.3" stroke-dasharray="7 7"/><line x1="1275.7" y1="912.8" x2="1275.7" y2="1332.0" stroke="#444" stroke-width="1.3" stroke-dasharray="7 7"/><line x1="1315.6" y1="912.8" x2="1315.6" y2="1332.0" stroke="#666" stroke-width="1.2" /><line x1="1021.6" y1="912.8" x2="1315.6" y2="912.8" stroke="#000" stroke-width="2.7" /><line x1="1021.6" y1="1332.0" x2="1317.1" y2="1332.0" stroke="#000" stroke-width="2.7" /><line x1="1036.6" y1="897.8" x2="1036.6" y2="1347.0" stroke="#000" stroke-width="2.7" /><line x1="1036.6" y1="897.8" x2="1036.6" y2="912.8" stroke="#000" stroke-width="2.7" /><line x1="1052.5" y1="904.8" x2="1052.5" y2="912.8" stroke="#000" stroke-width="2.4" /><line x1="1068.5" y1="904.8" x2="1068.5" y2="912.8" stroke="#000" stroke-width="2.4" /><line x1="1084.4" y1="904.8" x2="1084.4" y2="912.8" stroke="#000" stroke-width="2.4" /><line x1="1100.4" y1="904.8" x2="1100.4" y2="912.8" stroke="#000" stroke-width="2.4" /><line x1="1116.3" y1="897.8" x2="1116.3" y2="912.8" stroke="#000" stroke-width="2.7" /><line x1="1132.3" y1="904.8" x2="1132.3" y2="912.8" stroke="#000" stroke-width="2.4" /><line x1="1148.2" y1="904.8" x2="1148.2" y2="912.8" stroke="#000" stroke-width="2.4" /><line x1="1164.1" y1="904.8" x2="1164.1" y2="912.8" stroke="#000" stroke-width="2.4" /><line x1="1180.1" y1="904.8" x2="1180.1" y2="912.8" stroke="#000" stroke-width="2.4" /><line x1="1196.0" y1="897.8" x2="1196.0" y2="912.8" stroke="#000" stroke-width="2.7" /><line x1="1212.0" y1="904.8" x2="1212.0" y2="912.8" stroke="#000" stroke-width="2.4" /><line x1="1227.9" y1="904.8" x2="1227.9" y2="912.8" stroke="#000" stroke-width="2.4" /><line x1="1243.9" y1="904.8" x2="1243.9" y2="912.8" stroke="#000" stroke-width="2.4" /><line x1="1259.8" y1="904.8" x2="1259.8" y2="912.8" stroke="#000" stroke-width="2.4" /><line x1="1275.7" y1="897.8" x2="1275.7" y2="912.8" stroke="#000" stroke-width="2.7" /><line x1="1291.7" y1="904.8" x2="1291.7" y2="912.8" stroke="#000" stroke-width="2.4" /><line x1="1307.6" y1="904.8" x2="1307.6" y2="912.8" stroke="#000" stroke-width="2.4" /><line x1="1036.6" y1="1332.0" x2="1036.6" y2="1347.0" stroke="#000" stroke-width="2.7" /><line x1="1071.5" y1="1332.0" x2="1071.5" y2="1340.0" stroke="#000" stroke-width="2.4" /><line x1="1106.3" y1="1332.0" x2="1106.3" y2="1340.0" stroke="#000" stroke-width="2.4" /><line x1="1141.2" y1="1332.0" x2="1141.2" y2="1340.0" stroke="#000" stroke-width="2.4" /><line x1="1176.1" y1="1332.0" x2="1176.1" y2="1347.0" stroke="#000" stroke-width="2.7" /><line x1="1211.0" y1="1332.0" x2="1211.0" y2="1340.0" stroke="#000" stroke-width="2.4" /><line x1="1245.8" y1="1332.0" x2="1245.8" y2="1340.0" stroke="#000" stroke-width="2.4" /><line x1="1280.7" y1="1332.0" x2="1280.7" y2="1340.0" stroke="#000" stroke-width="2.4" /><line x1="1315.6" y1="1332.0" x2="1315.6" y2="1347.0" stroke="#000" stroke-width="2.7" /><line x1="1021.6" y1="912.8" x2="1036.6" y2="912.8" stroke="#000" stroke-width="2.7" /><line x1="1028.6" y1="947.7" x2="1036.6" y2="947.7" stroke="#000" stroke-width="2.4" /><line x1="1028.6" y1="982.7" x2="1036.6" y2="982.7" stroke="#000" stroke-width="2.4" /><line x1="1028.6" y1="1017.6" x2="1036.6" y2="1017.6" stroke="#000" stroke-width="2.4" /><line x1="1021.6" y1="1052.5" x2="1036.6" y2="1052.5" stroke="#000" stroke-width="2.7" /><line x1="1028.6" y1="1087.5" x2="1036.6" y2="1087.5" stroke="#000" stroke-width="2.4" /><line x1="1028.6" y1="1122.4" x2="1036.6" y2="1122.4" stroke="#000" stroke-width="2.4" /><line x1="1028.6" y1="1157.3" x2="1036.6" y2="1157.3" stroke="#000" stroke-width="2.4" /><line x1="1021.6" y1="1192.3" x2="1036.6" y2="1192.3" stroke="#000" stroke-width="2.7" /><line x1="1028.6" y1="1227.2" x2="1036.6" y2="1227.2" stroke="#000" stroke-width="2.4" /><line x1="1028.6" y1="1262.1" x2="1036.6" y2="1262.1" stroke="#000" stroke-width="2.4" /><line x1="1028.6" y1="1297.1" x2="1036.6" y2="1297.1" stroke="#000" stroke-width="2.4" /><line x1="1021.6" y1="1332.0" x2="1036.6" y2="1332.0" stroke="#000" stroke-width="2.7" /><text x="1116.6" y="851.4" font-size="24" text-anchor="start" font-weight="normal" >σ</text><text x="1132.1" y="857.6" font-size="15" text-anchor="start" font-weight="normal" >θ</text><text x="1146.1" y="851.4" font-size="24" text-anchor="start" font-weight="normal" >(</text><text x="1154.6" y="851.4" font-size="24" text-anchor="start" font-weight="normal" textLength="29.5" lengthAdjust="spacingAndGlyphs">kg</text><text x="1191.1" y="851.4" font-size="24" text-anchor="start" font-weight="normal" textLength="21" lengthAdjust="spacingAndGlyphs">m</text><text x="1212.6" y="843.6" font-size="17" text-anchor="start" font-weight="normal" >-3</text><text x="1228.6" y="851.4" font-size="24" text-anchor="start" font-weight="normal" >)</text><text x="1036.6" y="886.2" font-size="27" text-anchor="middle" font-weight="normal" >26</text><text x="1116.3" y="886.2" font-size="27" text-anchor="middle" font-weight="normal" >27</text><text x="1196.0" y="886.2" font-size="27" text-anchor="middle" font-weight="normal" >28</text><text x="1275.7" y="886.2" font-size="27" text-anchor="middle" font-weight="normal" >29</text><text x="1015.3" y="922.5" font-size="27" text-anchor="end" font-weight="normal" >0</text><text x="1015.3" y="1062.2" font-size="27" text-anchor="end" font-weight="normal" >100</text><text x="1015.3" y="1202.0" font-size="27" text-anchor="end" font-weight="normal" >200</text><text x="1015.3" y="1341.7" font-size="27" text-anchor="end" font-weight="normal" >300</text><text x="1036.6" y="1377.7" font-size="27" text-anchor="middle" font-weight="normal" >0</text><text x="1176.1" y="1377.7" font-size="27" text-anchor="middle" font-weight="normal" >0.004</text><text x="1315.6" y="1377.7" font-size="27" text-anchor="middle" font-weight="normal" >0.008</text><text x="1174.6" y="1408.3" font-size="26" text-anchor="middle">N<tspan font-size="16" dy="-8.5">2</tspan><tspan dy="8.5"> (s-</tspan><tspan font-size="16" dy="-8.5">2</tspan><tspan dy="8.5">)</tspan></text><text x="0" y="0" font-size="27" text-anchor="middle" transform="translate(961.3,1122.9) rotate(-90)">P (dbar)</text><text x="940.5" y="884.8" font-size="29" text-anchor="start" font-weight="bold" >F</text><text x="140.5" y="621.0" font-size="27.5" text-anchor="start" font-weight="bold" >GD</text><line x1="272.5" y1="616.6" x2="389.4" y2="616.6" stroke="#b446b4" stroke-width="3.2" stroke-linecap="round"/><text x="140.5" y="654.3" font-size="27.5" text-anchor="start" font-weight="bold" >SP</text><line x1="272.5" y1="651.0" x2="389.4" y2="651.0" stroke="#7443b6" stroke-width="3.2" stroke-linecap="round"/><text x="140.5" y="688.7" font-size="27.5" text-anchor="start" font-weight="bold" >P4</text><line x1="272.5" y1="680.9" x2="389.4" y2="680.9" stroke="#2f3fa3" stroke-width="3.2" stroke-linecap="round"/><text x="140.5" y="720.8" font-size="27.5" text-anchor="start" font-weight="bold" >V4</text><line x1="272.5" y1="710.8" x2="389.4" y2="710.8" stroke="#4ec6df" stroke-width="3.2" stroke-linecap="round"/><text x="140.5" y="755.2" font-size="27.5" text-anchor="start" font-weight="bold" >S4</text><line x1="272.5" y1="739.9" x2="389.4" y2="739.9" stroke="#f28023" stroke-width="3.2" stroke-linecap="round"/><text x="140.5" y="788.4" font-size="27.5" text-anchor="start" font-weight="bold" >CG4</text><line x1="272.5" y1="780.0" x2="389.4" y2="780.0" stroke="#e2232b" stroke-width="3.2" stroke-linecap="round"/><text x="590.5" y="641.0" font-size="27.5" text-anchor="start" font-weight="bold" >C25</text><line x1="706.8" y1="635.9" x2="822.3" y2="635.9" stroke="#7443b6" stroke-width="3.2" stroke-linecap="round"/><text x="590.5" y="674.3" font-size="27.5" text-anchor="start" font-weight="bold" >CP3</text><line x1="706.8" y1="676.5" x2="822.3" y2="676.5" stroke="#2f3fa3" stroke-width="3.2" stroke-linecap="round"/><text x="590.5" y="707.5" font-size="27.5" text-anchor="start" font-weight="bold" >C18</text><line x1="702.6" y1="705.5" x2="818.3" y2="705.5" stroke="#4ec6df" stroke-width="3.2" stroke-linecap="round"/><text x="590.5" y="740.8" font-size="27.5" text-anchor="start" font-weight="bold" >B3</text><line x1="702.6" y1="739.2" x2="818.3" y2="739.2" stroke="#47b547" stroke-width="3.2" stroke-linecap="round"/><text x="590.5" y="774.7" font-size="27.5" text-anchor="start" font-weight="bold" >EPC</text><line x1="702.6" y1="775.2" x2="818.3" y2="775.2" stroke="#e2232b" stroke-width="3.2" stroke-linecap="round"/><text x="1060.5" y="673.9" font-size="27.5" text-anchor="start" font-weight="bold" >MH4</text><line x1="1187.5" y1="656.6" x2="1303.9" y2="656.6" stroke="#47b547" stroke-width="3.2" stroke-linecap="round"/><text x="1060.5" y="707.2" font-size="27.5" text-anchor="start" font-weight="bold" >T4</text><line x1="1187.5" y1="694.7" x2="1303.9" y2="694.7" stroke="#f28023" stroke-width="3.2" stroke-linecap="round"/><text x="1060.5" y="740.4" font-size="27.5" text-anchor="start" font-weight="bold" >BNA4</text><line x1="1187.5" y1="733.8" x2="1303.9" y2="733.8" stroke="#e2232b" stroke-width="3.2" stroke-linecap="round"/><polyline points="188.2,81.5 189.0,97.8 189.5,123.8 189.2,156.3 188.2,188.8 186.3,219.7 182.5,247.5 179.3,280.0 175.7,312.6 172.0,345.1 170.3,359.7 165.6,399.8 161.3,433.0 158.0,466.3 154.6,497.9" fill="none" stroke="#7443b6" stroke-width="3.2" stroke-linejoin="round" stroke-dasharray="3.4 10.4" stroke-linecap="round"/><polyline points="222.0,81.5 223.7,96.1 226.9,110.8 233.4,123.8 239.9,135.2 246.4,148.2 254.6,157.9 262.7,172.6 274.1,188.8 283.8,205.1 293.6,218.1 296.3,223.1 306.1,239.4 312.6,255.7 317.5,263.8 322.0,280.0 324.5,296.3 326.1,312.6 328.5,328.8 330.2,345.1 331.0,361.3 330.9,366.5 333.6,399.8 335.9,433.0 337.5,466.3 339.2,497.9" fill="none" stroke="#2f3fa3" stroke-width="3.2" stroke-linejoin="round" stroke-dasharray="3.4 10.4" stroke-linecap="round"/><polyline points="231.0,81.5 231.0,99.4 235.0,110.8 239.9,122.2 248.0,135.2 254.6,146.5 262.7,156.3 271.6,172.6 278.9,182.3 292.0,198.6 303.3,214.8 311.0,231.3 316.7,247.5 319.9,263.8 322.4,280.0 324.8,296.3 326.4,312.6 328.9,328.8 330.5,345.1 331.3,361.3 330.9,366.5 333.6,399.8 335.9,433.0 337.5,466.3 339.2,497.9" fill="none" stroke="#f28023" stroke-width="3.2" stroke-linejoin="round" stroke-dasharray="3.4 10.4" stroke-linecap="round"/><polyline points="227.2,81.5 228.5,96.1 234.2,110.8 238.3,123.8 244.0,138.4 250.5,148.2 260.2,159.6 269.2,170.9 275.7,182.3 290.3,198.6 298.5,213.2 306.6,224.6 311.0,231.3 316.7,247.5 319.9,263.8 322.4,280.0 324.8,296.3 326.4,312.6 328.9,328.8 330.5,345.1 331.3,361.3 330.9,366.5 333.6,399.8 335.9,433.0 337.5,466.3 339.2,497.9" fill="none" stroke="#4ec6df" stroke-width="3.2" stroke-linejoin="round" stroke-dasharray="3.4 10.4" stroke-linecap="round"/><polyline points="216.3,81.5 215.5,96.1 217.2,105.9 225.3,115.7 233.4,123.8 249.7,144.9 259.4,156.3 269.2,166.1 278.1,179.1 292.0,198.6 300.1,213.2 306.6,224.6 311.0,231.3 316.7,247.5 319.9,263.8 322.4,280.0 324.8,296.3 326.4,312.6 328.9,328.8 330.5,345.1 331.3,361.3 330.9,366.5 333.6,399.8 335.9,433.0 337.5,466.3 339.2,497.9" fill="none" stroke="#47b547" stroke-width="3.2" stroke-linejoin="round" stroke-dasharray="3.4 10.4" stroke-linecap="round"/><polyline points="261.4,81.5 262.7,97.8 267.6,107.5 277.3,123.8 283.8,136.8 292.8,156.3 296.8,172.6 305.0,188.8 308.2,205.1 311.5,221.3 311.8,231.3 317.5,247.5 320.4,263.8 322.7,280.0 325.3,296.3 326.9,312.6 329.2,328.8 330.8,345.1 331.8,361.3 330.9,366.5 333.6,399.8 335.9,433.0 337.5,466.3 339.2,497.9" fill="none" stroke="#e2232b" stroke-width="3.2" stroke-linejoin="round" stroke-dasharray="3.4 10.4" stroke-linecap="round"/><polyline points="376.2,81.5 370.0,91.3 368.4,115.7 363.5,140.0 358.6,164.4 353.7,188.8 348.9,205.1 342.4,221.3 333.7,247.5 312.6,280.0 296.3,304.4 278.5,328.8 263.8,353.2 260.6,364.6 252.7,383.1 244.4,396.4 232.8,406.4 227.8,413.1 216.2,433.0 204.5,449.7 194.5,466.3 182.2,497.9" fill="none" stroke="#7443b6" stroke-width="2.7" stroke-linejoin="round"/><polyline points="305.0,81.5 300.1,99.4 298.5,107.5 293.6,123.8 286.3,140.0 282.2,156.3 274.1,172.6 262.7,188.8 252.1,205.1 241.5,219.7 233.7,231.3 215.0,255.7 206.9,280.0 202.0,296.3 191.5,345.1 188.6,359.2 186.2,399.8 184.9,497.9" fill="none" stroke="#4ec6df" stroke-width="2.7" stroke-linejoin="round"/><polyline points="327.7,81.5 322.8,94.5 313.1,115.7 313.1,131.9 303.3,143.3 293.6,159.6 283.8,172.6 270.8,188.8 257.8,205.1 246.4,221.3 237.8,231.3 221.5,255.7 210.2,280.0 203.7,296.3 193.9,328.8 190.7,361.3 187.2,399.8 184.9,497.9" fill="none" stroke="#2f3fa3" stroke-width="2.7" stroke-linejoin="round"/><polyline points="323.7,81.5 319.6,99.4 316.3,120.5 308.2,123.8 295.2,140.0 287.1,156.3 277.3,172.6 262.7,188.8 256.2,205.1 244.8,221.3 242.7,228.0 231.3,247.5 216.7,280.0 203.7,312.6 197.2,345.1 195.5,361.3 192.2,383.1 190.2,399.8 187.9,433.0 187.9,497.9" fill="none" stroke="#f28023" stroke-width="2.7" stroke-linejoin="round"/><polyline points="313.1,81.5 309.8,99.4 305.0,112.4 296.8,123.8 287.9,140.0 282.2,156.3 274.1,172.6 262.7,188.8 251.3,205.1 239.9,219.7 232.9,231.3 223.2,247.5 213.4,263.8 206.9,280.0 200.4,296.3 195.5,312.6 192.3,328.8 189.8,345.1 188.2,361.3 185.6,399.8 184.6,433.0 184.6,497.9" fill="none" stroke="#47b547" stroke-width="2.7" stroke-linejoin="round"/><polyline points="299.6,81.5 297.6,107.5 290.3,123.8 283.8,140.0 282.2,156.3 272.4,172.6 265.9,188.8 256.2,205.1 250.5,221.3 247.6,228.0 234.6,247.5 224.8,263.8 213.4,296.3 206.1,328.8 202.8,361.3 199.5,399.8 198.5,433.0 197.9,497.9" fill="none" stroke="#e2232b" stroke-width="2.7" stroke-linejoin="round"/><polyline points="781.0,81.5 781.8,99.4 783.4,115.7 784.2,131.9 785.0,148.2 785.9,164.4 787.5,180.7 789.9,197.0 791.5,213.2 794.0,221.3 795.3,231.3 795.9,247.5 797.6,263.8 798.9,280.0 800.5,296.3 802.1,312.6 803.7,328.8 804.6,345.1 805.0,361.3 806.2,387.5 808.3,420.0 809.4,452.6 811.5,498.1" fill="none" stroke="#7443b6" stroke-width="3.2" stroke-linejoin="round" stroke-dasharray="3.4 10.4" stroke-linecap="round"/><polyline points="776.1,81.5 776.9,91.3 779.3,107.5 780.2,123.8 781.8,140.0 782.6,156.3 783.4,172.6 784.2,188.8 785.9,205.1 787.5,221.3 789.9,247.5 791.5,280.0 793.2,312.6 794.8,345.1 795.6,361.3 797.6,387.5 800.5,420.0 802.9,452.6 805.4,498.1" fill="none" stroke="#4ec6df" stroke-width="3.2" stroke-linejoin="round" stroke-dasharray="3.4 10.4" stroke-linecap="round"/><polyline points="757.4,81.5 756.6,99.4 758.2,115.7 759.8,131.9 763.1,148.2 767.2,164.4 772.0,180.7 778.5,197.0 785.0,213.2 787.5,221.3 789.9,231.3 794.8,247.5 797.2,263.8 798.9,280.0 800.5,296.3 802.1,312.6 803.7,328.8 804.6,345.1 805.4,361.3 806.7,387.5 808.9,420.0 809.9,452.6 812.2,498.1" fill="none" stroke="#e2232b" stroke-width="3.2" stroke-linejoin="round" stroke-dasharray="3.4 10.4" stroke-linecap="round"/><polyline points="753.3,81.5 751.7,91.3 755.0,115.7 758.2,131.9 763.1,148.2 767.2,164.4 771.2,180.7 775.3,197.0 781.0,213.2 781.8,221.3 784.2,231.3 787.5,247.5 789.1,263.8 790.7,280.0 792.4,296.3 794.0,312.6 795.3,328.8 795.9,345.1 796.4,361.3 797.2,387.5 800.2,420.0 802.4,452.6 805.0,498.1" fill="none" stroke="#47b547" stroke-width="3.2" stroke-linejoin="round" stroke-dasharray="3.4 10.4" stroke-linecap="round"/><polyline points="746.8,81.5 748.5,91.3 753.3,107.5 759.8,123.8 764.7,140.0 776.1,156.3 781.0,172.6 783.4,188.8 786.7,205.1 789.1,221.3 789.9,247.5 791.5,280.0 793.2,312.6 794.8,345.1 795.6,361.3 797.2,387.5 800.2,420.0 802.6,452.6 805.0,498.1" fill="none" stroke="#2f3fa3" stroke-width="3.2" stroke-linejoin="round" stroke-dasharray="3.4 10.4" stroke-linecap="round"/><polyline points="711.9,81.5 706.2,91.3 699.7,107.5 686.7,123.8 683.4,131.9 676.1,148.2 672.0,164.4 669.6,180.7 668.8,197.0 668.8,213.2 668.0,221.3 665.5,231.3 663.1,247.5 661.5,263.8 659.8,280.0 657.4,281.7 654.1,284.9 651.7,296.3 650.9,312.6" fill="none" stroke="#4ec6df" stroke-width="2.7" stroke-linejoin="round"/><polyline points="696.4,81.5 694.0,91.3 688.3,107.5 683.4,115.7 675.3,128.7 670.4,140.0 668.0,148.2 664.7,164.4 664.7,180.7 663.9,197.0 662.0,221.3 660.7,231.3 656.6,247.5 655.0,263.8 654.1,280.0 654.1,312.6 654.5,345.1 654.5,361.3 654.1,387.5 653.8,420.0 655.0,452.6 654.5,490.0" fill="none" stroke="#7443b6" stroke-width="2.7" stroke-linejoin="round"/><polyline points="740.3,81.5 737.1,99.4 734.6,115.7 733.8,131.9 732.2,148.2 728.1,164.4 724.1,180.7 715.9,197.0 704.6,213.2 696.4,221.3 691.5,231.3 684.2,247.5 675.3,263.8 669.6,280.0 666.3,296.3 663.9,312.6 662.6,328.8 661.5,345.1 661.0,361.3 660.7,387.5 659.8,420.0 659.0,452.6 658.7,498.1" fill="none" stroke="#e2232b" stroke-width="2.7" stroke-linejoin="round"/><polyline points="753.3,81.5 748.5,91.3 741.1,107.5 733.8,123.8 729.8,140.0 724.1,156.3 717.6,172.6 709.4,188.8 701.3,205.1 694.0,221.3 688.3,231.3 680.2,247.5 674.5,263.8 669.6,280.0 665.5,296.3 662.3,312.6 659.8,328.8 657.7,345.1 656.6,361.3" fill="none" stroke="#47b547" stroke-width="2.7" stroke-linejoin="round"/><polyline points="752.5,81.5 751.7,91.3 743.6,107.5 733.8,123.8 728.1,131.9 722.4,140.0 714.3,148.2 705.4,156.3 699.7,164.4 694.8,172.6 692.4,180.7 689.1,188.8 682.6,205.1 676.9,221.3 675.3,231.3 672.0,247.5 669.6,263.8 667.2,280.0 664.7,296.3 661.5,312.6 659.0,328.8 657.4,345.1 656.6,361.3 655.4,420.0 655.8,498.1" fill="none" stroke="#2f3fa3" stroke-width="2.7" stroke-linejoin="round"/><polyline points="1246.7,81.5 1247.5,99.4 1248.3,115.7 1249.9,131.9 1251.5,148.2 1254.0,164.4 1255.6,180.7 1256.4,197.0 1257.2,213.2 1257.2,221.3 1260.4,256.0 1262.5,297.0 1265.6,338.0 1269.7,379.0 1272.7,420.0 1275.8,461.1 1277.9,489.8" fill="none" stroke="#f28023" stroke-width="3.2" stroke-linejoin="round" stroke-dasharray="3.4 10.4" stroke-linecap="round"/><polyline points="1258.9,81.5 1259.7,99.4 1259.7,115.7 1260.8,131.9 1261.8,148.2 1262.9,164.4 1264.1,180.7 1265.0,197.0 1265.7,213.2 1266.2,221.3 1268.6,256.0 1270.7,297.0 1272.7,338.0 1273.8,379.0 1274.8,420.0 1276.8,461.1 1278.9,489.8" fill="none" stroke="#e2232b" stroke-width="3.2" stroke-linejoin="round" stroke-dasharray="3.4 10.4" stroke-linecap="round"/><polyline points="1240.2,81.5 1240.2,99.4 1243.4,115.7 1245.9,131.9 1249.1,148.2 1253.2,164.4 1257.2,180.7 1259.7,197.0 1262.1,213.2 1262.9,221.3 1269.7,256.0 1272.7,297.0 1275.8,338.0 1277.9,379.0 1279.9,420.0 1282.0,461.1 1283.0,498.0" fill="none" stroke="#47b547" stroke-width="3.2" stroke-linejoin="round" stroke-dasharray="3.4 10.4" stroke-linecap="round"/><polyline points="1131.7,81.5 1129.6,99.4 1126.3,123.8 1127.2,140.0 1128.0,164.4 1126.3,188.8 1124.7,205.1 1123.1,221.3 1126.1,245.8 1123.1,266.3 1123.1,297.0 1124.1,338.0 1124.7,358.5 1126.1,389.3 1123.1,420.0 1124.1,450.8 1126.8,495.9" fill="none" stroke="#e2232b" stroke-width="2.7" stroke-linejoin="round"/><polyline points="1154.0,81.5 1151.5,99.4 1148.3,115.7 1141.8,123.8 1139.3,135.2 1142.6,144.9 1143.4,156.3 1142.6,172.6 1140.2,188.8 1137.7,205.1 1136.1,221.3 1134.3,245.8 1133.3,276.5 1134.3,317.5 1131.3,358.5 1129.2,399.5 1129.6,440.5 1130.2,495.9" fill="none" stroke="#f28023" stroke-width="2.7" stroke-linejoin="round"/><polyline points="1172.7,81.5 1171.1,91.3 1162.9,107.5 1159.7,115.7 1156.4,131.9 1153.2,148.2 1149.9,164.4 1149.1,175.8 1143.4,188.8 1141.0,205.1 1138.5,221.3 1134.3,256.0 1131.3,297.0 1130.9,338.0 1131.3,379.0 1131.3,420.0 1132.3,495.9" fill="none" stroke="#47b547" stroke-width="2.7" stroke-linejoin="round"/><polyline points="98.9,914.3 110.5,919.0 118.3,923.6 120.6,932.9 115.2,943.8 107.4,954.7 105.9,967.1 110.5,982.6 110.5,995.0 102.8,1005.9 97.3,1013.6 95.8,1021.4 96.6,1036.9 102.8,1052.4 107.9,1066.4 108.9,1109.3 110.0,1152.2 110.0,1173.6 108.9,1195.0 108.8,1210.9 108.8,1233.0 107.7,1277.4 111.1,1330.6" fill="none" stroke="#7443b6" stroke-width="3.2" stroke-linejoin="round" stroke-dasharray="3.4 10.4" stroke-linecap="round"/><polyline points="101.2,923.6 118.3,925.2 149.3,928.3 180.4,931.4 203.6,934.5 226.9,936.8 242.4,938.4 258.0,940.7 278.1,945.4 287.5,950.0 282.8,959.3 270.4,970.2 265.7,982.6 271.9,998.1 262.6,1010.5 250.2,1021.4 239.3,1032.3 230.0,1044.7 222.3,1054.0 223.6,1057.9 189.3,1077.1 159.3,1092.1 148.6,1109.3 137.9,1130.7 129.3,1152.2 123.9,1173.6 118.6,1192.9 108.8,1210.9 108.8,1233.0 106.6,1277.4 103.3,1330.6" fill="none" stroke="#47b547" stroke-width="3.2" stroke-linejoin="round" stroke-dasharray="3.4 10.4" stroke-linecap="round"/><polyline points="107.4,925.2 133.8,928.3 164.8,932.9 195.9,937.6 226.9,942.2 230.0,950.0 217.6,956.2 203.6,962.4 188.1,970.2 177.3,979.5 183.5,991.9 189.7,1004.3 185.0,1016.7 177.3,1029.2 174.2,1041.6 178.8,1052.4 182.9,1066.4 176.4,1077.1 163.6,1083.6 152.9,1090.0 140.0,1098.6 131.4,1109.3 127.1,1130.7 122.9,1152.2 119.6,1173.6 116.4,1192.9 117.7,1210.9 121.0,1233.0 114.4,1255.2 110.0,1277.4 108.8,1299.6 108.8,1330.6" fill="none" stroke="#e2232b" stroke-width="3.2" stroke-linejoin="round" stroke-dasharray="3.4 10.4" stroke-linecap="round"/><polyline points="98.1,926.7 133.8,931.4 175.7,937.6 203.6,943.8 230.0,951.6 248.7,964.0 256.4,974.8 261.1,990.4 268.8,1005.9 271.9,1013.6 267.3,1021.4 259.5,1029.2 247.1,1036.9 231.6,1044.7 213.0,1052.4 187.2,1062.1 180.7,1077.1 172.2,1098.6 161.4,1113.6 148.6,1126.4 133.6,1141.4 125.0,1162.9 122.9,1184.3 120.7,1195.0 118.8,1210.9 118.8,1233.0 112.2,1255.2 108.8,1277.4 107.7,1321.7 108.8,1330.6" fill="none" stroke="#f28023" stroke-width="3.2" stroke-linejoin="round" stroke-dasharray="3.4 10.4" stroke-linecap="round"/><polyline points="101.2,926.7 164.8,936.0 195.9,943.8 216.1,951.6 231.6,962.4 245.6,970.2 259.5,982.6 261.1,995.0 259.5,1005.9 259.5,1016.7 261.1,1027.6 253.3,1036.9 244.0,1044.7 231.6,1052.4 232.2,1057.9 189.3,1083.6 165.7,1100.7 146.4,1115.7 135.7,1130.7 125.0,1152.2 119.6,1173.6 115.4,1195.0 110.0,1210.9 107.7,1255.2 106.6,1299.6 104.4,1330.6" fill="none" stroke="#4ec6df" stroke-width="3.2" stroke-linejoin="round" stroke-dasharray="3.4 10.4" stroke-linecap="round"/><polyline points="99.7,926.7 126.0,929.8 160.2,934.5 188.1,939.1 211.4,946.9 226.9,956.2 234.7,967.1 244.0,982.6 246.3,998.1 242.4,1010.5 247.9,1021.4 261.1,1032.3 270.4,1044.7 276.6,1052.4 272.9,1057.9 257.9,1066.4 227.9,1077.1 202.2,1087.9 178.6,1100.7 163.6,1115.7 150.7,1130.7 133.6,1152.2" fill="none" stroke="#2f3fa3" stroke-width="3.2" stroke-linejoin="round" stroke-dasharray="3.4 10.4" stroke-linecap="round"/><polyline points="157.9,912.8 161.0,936.0 162.5,967.1 163.3,998.1 163.8,1029.2 164.1,1058.7 165.7,1087.9 167.9,1130.7 170.0,1173.6 171.1,1195.0 173.1,1233.0 175.4,1277.4 177.6,1330.6" fill="none" stroke="#7443b6" stroke-width="2.7" stroke-linejoin="round"/><polyline points="200.5,912.8 203.6,928.3 209.9,943.8 217.6,959.3 226.9,974.8 237.8,990.4 247.1,1005.9 256.4,1021.4 267.3,1036.9 282.8,1052.4 292.2,1066.4 307.2,1087.9 317.9,1109.3 322.2,1122.2 324.3,1130.7 328.6,1152.2 330.7,1173.6 334.0,1195.0 337.2,1233.0 339.4,1277.4 341.7,1330.6" fill="none" stroke="#2f3fa3" stroke-width="2.7" stroke-linejoin="round"/><polyline points="210.6,912.8 217.6,936.0 223.8,951.6 230.0,967.1 239.3,982.6 253.3,998.1 261.1,1013.6 273.5,1029.2 285.9,1044.7 296.8,1058.7 302.9,1066.4 311.5,1087.9 317.9,1109.3 321.1,1130.7 324.3,1152.2 327.5,1173.6 330.7,1195.0 333.9,1233.0 336.6,1277.4 340.1,1330.6" fill="none" stroke="#4ec6df" stroke-width="2.7" stroke-linejoin="round"/><polyline points="197.4,912.8 199.0,928.3 206.7,943.8 213.0,951.6 223.8,967.1 233.1,982.6 245.6,998.1 259.5,1013.6 271.9,1029.2 284.4,1044.7 296.8,1058.7 301.8,1066.4 311.0,1087.9 317.9,1109.3 321.5,1130.7 324.7,1152.2 328.0,1173.6 331.2,1195.0 333.2,1233.0 336.1,1277.4 339.4,1330.6" fill="none" stroke="#47b547" stroke-width="2.7" stroke-linejoin="round"/><polyline points="209.1,912.8 213.0,936.0 220.7,951.6 228.5,967.1 237.8,982.6 251.8,998.1 262.6,1013.6 273.5,1029.2 285.9,1044.7 298.3,1058.7 303.3,1066.4 311.9,1087.9 317.9,1109.3 321.1,1130.7 323.9,1152.2 326.9,1173.6 330.1,1195.0 332.8,1233.0 335.7,1277.4 339.0,1330.6" fill="none" stroke="#f28023" stroke-width="2.7" stroke-linejoin="round"/><polyline points="242.4,912.8 244.0,928.3 247.1,937.6 256.4,951.6 264.2,967.1 271.9,982.6 276.6,998.1 284.4,1013.6 289.0,1029.2 293.7,1044.7 299.9,1058.7 307.2,1066.4 313.6,1087.9 317.9,1109.3 320.0,1130.7 323.2,1152.2 325.4,1173.6 328.6,1195.0 331.7,1233.0 335.0,1277.4 338.3,1330.6" fill="none" stroke="#e2232b" stroke-width="2.7" stroke-linejoin="round"/><polyline points="577.9,926.1 592.5,931.0 608.8,940.8 613.7,948.9 603.9,961.9 594.1,973.3 586.0,986.3 585.2,999.3 589.3,1010.7 594.1,1022.1 599.0,1035.1 597.4,1051.3 595.8,1059.5 596.7,1063.9 591.3,1078.1 590.7,1092.3 590.2,1106.5 587.2,1120.7 583.1,1133.7 579.5,1145.5 576.6,1157.3 576.6,1175.1 577.7,1192.2 576.9,1201.4 574.7,1217.9 574.7,1231.0 578.0,1243.1 580.2,1256.2 583.5,1268.3 581.3,1281.4 574.7,1297.9 570.3,1309.9 568.2,1322.0 568.2,1331.8" fill="none" stroke="#7443b6" stroke-width="3.2" stroke-linejoin="round" stroke-dasharray="3.4 10.4" stroke-linecap="round"/><polyline points="590.9,921.3 608.8,934.3 616.9,945.7 616.9,961.9 607.2,978.2 595.8,989.6 586.0,1002.6 587.6,1018.8 590.1,1035.1 590.9,1051.3 590.1,1059.5 591.9,1068.7 596.1,1082.8 596.1,1097.0 589.6,1111.2 581.9,1123.1 577.7,1134.9 578.3,1149.1 578.9,1163.3 580.1,1175.1 579.5,1192.2 576.9,1206.9 575.8,1221.2 578.6,1234.3 582.4,1246.4 582.4,1261.7 578.6,1273.8 577.5,1286.9 578.6,1301.2 578.0,1313.2 571.4,1325.3 569.2,1331.8" fill="none" stroke="#4ec6df" stroke-width="3.2" stroke-linejoin="round" stroke-dasharray="3.4 10.4" stroke-linecap="round"/><polyline points="577.9,934.3 592.5,939.1 600.7,948.9 600.7,957.0 600.7,970.0 607.2,978.2 616.9,986.3 638.0,996.1 654.3,1005.8 667.3,1015.6 675.4,1025.3 670.6,1035.1 660.8,1044.8 649.4,1054.6 644.6,1059.5 638.1,1062.7 623.9,1074.6 617.9,1086.4 613.2,1098.2 608.5,1110.0 601.4,1121.9 595.5,1133.7 590.7,1145.5 588.4,1157.3 586.0,1169.2 584.2,1181.0 583.1,1192.2 581.8,1201.4 581.3,1215.7 580.8,1228.8 578.6,1239.8 578.0,1256.2 576.4,1270.5 575.3,1283.6 575.8,1294.6 575.3,1311.0 574.7,1324.2" fill="none" stroke="#e2232b" stroke-width="3.2" stroke-linejoin="round" stroke-dasharray="3.4 10.4" stroke-linecap="round"/><polyline points="558.4,914.8 579.5,918.0 600.7,921.3 625.0,924.5 646.2,929.4 665.7,937.5 672.2,940.8 677.1,953.8 680.3,970.0 681.1,978.2 675.4,989.6 664.1,997.7 652.7,1004.2 639.7,1010.7 626.7,1018.8 620.2,1031.8 615.3,1043.2 608.8,1054.6 605.5,1059.5 597.8,1063.9 588.4,1075.7 583.1,1089.9 583.7,1101.8 584.8,1116.0 583.1,1127.8 580.1,1139.6 581.9,1157.3 584.8,1169.2 584.2,1181.0 581.3,1192.2 576.9,1201.4 574.7,1215.7 576.9,1228.8 588.4,1239.8 587.9,1255.1 585.1,1267.2 581.3,1280.3 579.1,1294.6 577.5,1305.5 575.8,1322.0 572.5,1327.5" fill="none" stroke="#2f3fa3" stroke-width="3.2" stroke-linejoin="round" stroke-dasharray="3.4 10.4" stroke-linecap="round"/><polyline points="569.8,912.8 584.4,918.0 600.7,922.9 613.7,929.4 623.4,937.5 623.4,945.7 616.9,953.8 616.9,961.9 620.2,970.0 628.3,978.2 639.7,986.3 647.8,994.4 650.2,1002.6 647.8,1010.7 642.9,1018.8 636.4,1035.1 631.5,1051.3 629.9,1059.5 622.7,1068.7 612.0,1080.5 606.1,1092.3 606.1,1104.1 607.9,1116.0 604.9,1127.8 599.0,1139.6 595.5,1151.4 591.9,1163.3 584.8,1175.1 577.7,1181.0 567.1,1186.9" fill="none" stroke="#47b547" stroke-width="2.7" stroke-linejoin="round"/><polyline points="775.5,913.3 779.3,936.3 783.4,961.3 786.6,988.4 788.7,1009.3 791.8,1030.2 793.9,1051.0 797.0,1071.9 800.1,1092.7 802.2,1113.6 804.3,1134.5 806.4,1192.2 807.1,1217.9 809.3,1261.7 810.9,1294.5 812.6,1330.7" fill="none" stroke="#7443b6" stroke-width="2.7" stroke-linejoin="round"/><polyline points="766.3,913.3 768.8,925.9 774.1,946.7 779.3,967.6 782.4,988.4 784.5,1009.3 786.6,1030.2 788.7,1051.0 791.8,1071.9 793.9,1092.7 796.0,1113.6 798.0,1134.5 800.1,1192.2 801.6,1217.9 804.4,1261.7 806.0,1294.5 807.1,1330.7" fill="none" stroke="#4ec6df" stroke-width="2.7" stroke-linejoin="round"/><polyline points="730.2,913.3 733.4,925.9 741.7,946.7 754.2,967.6 766.8,988.4 775.1,1009.3 782.4,1030.2 785.5,1051.0 788.7,1071.9 790.7,1092.7 792.8,1113.6 793.9,1134.5 796.0,1155.3 798.0,1192.2 798.9,1206.9 802.2,1250.7 805.5,1294.5 806.9,1330.7" fill="none" stroke="#2f3fa3" stroke-width="2.7" stroke-linejoin="round"/><polyline points="734.4,913.3 736.5,925.9 741.7,946.7 750.1,967.6 756.3,988.4 762.6,1009.3 768.8,1030.2 775.1,1051.0 781.4,1071.9 785.5,1092.7 789.7,1113.6 793.9,1134.5 797.0,1155.3 800.1,1192.2 801.1,1217.9 803.8,1261.7 805.8,1294.5 807.1,1330.7" fill="none" stroke="#47b547" stroke-width="2.7" stroke-linejoin="round"/><polyline points="742.8,913.3 742.8,925.9 743.8,946.7 748.0,967.6 754.2,988.4 760.5,1009.3 766.8,1026.0 775.1,1040.6 783.4,1061.4 789.7,1082.3 796.0,1103.2 800.1,1124.0 802.2,1144.9 804.3,1192.2 807.6,1217.9 809.8,1261.7 811.5,1294.5 813.0,1330.7" fill="none" stroke="#e2232b" stroke-width="2.7" stroke-linejoin="round"/><polyline points="1057.1,925.9 1071.7,930.0 1086.3,936.3 1092.6,946.7 1084.2,959.2 1080.1,973.8 1088.4,988.4 1094.7,998.9 1090.5,1013.5 1080.1,1023.9 1069.6,1036.4 1067.5,1051.0 1066.5,1071.9 1059.2,1092.7 1057.1,1113.6 1056.1,1134.5 1051.9,1155.3 1049.8,1176.2 1048.3,1196.8 1046.0,1220.5 1044.2,1244.1 1043.6,1267.8 1043.0,1291.4 1041.8,1315.1 1041.8,1324.5" fill="none" stroke="#47b547" stroke-width="3.2" stroke-linejoin="round" stroke-dasharray="3.4 10.4" stroke-linecap="round"/><polyline points="1038.3,925.9 1057.1,932.1 1071.7,940.5 1076.9,950.9 1069.6,963.4 1059.2,973.8 1051.9,984.3 1050.9,998.9 1056.1,1015.6 1055.0,1030.2 1050.9,1051.0 1050.9,1071.9 1049.8,1092.7 1047.7,1113.6 1049.8,1134.5 1050.9,1155.3 1052.9,1176.2 1056.1,1192.2 1058.4,1202.7 1058.4,1220.5 1054.8,1232.3 1050.7,1244.1 1047.7,1256.0 1047.7,1267.8 1047.7,1285.5 1046.6,1297.3 1045.4,1315.1" fill="none" stroke="#f28023" stroke-width="3.2" stroke-linejoin="round" stroke-dasharray="3.4 10.4" stroke-linecap="round"/><polyline points="1038.3,925.9 1050.9,936.3 1055.0,950.9 1050.9,963.4 1045.6,975.9 1045.6,988.4 1049.8,998.9 1052.9,1019.7 1050.9,1040.6 1046.7,1061.4 1048.8,1082.3 1047.7,1103.2 1045.6,1124.0 1044.6,1144.9 1044.6,1165.7 1045.0,1176.2 1044.2,1196.8 1044.2,1220.5 1043.6,1244.1 1043.0,1267.8 1043.6,1291.4 1043.6,1315.1 1043.6,1324.5" fill="none" stroke="#e2232b" stroke-width="3.2" stroke-linejoin="round" stroke-dasharray="3.4 10.4" stroke-linecap="round"/><polyline points="1233.2,914.2 1233.2,929.6 1240.0,951.1 1246.1,981.8 1250.7,997.2 1259.9,1027.9 1264.5,1052.5 1269.1,1089.4 1272.2,1120.1 1275.3,1150.9 1276.8,1181.6 1278.4,1212.3 1279.9,1243.0 1280.8,1273.8 1282.4,1331.9" fill="none" stroke="#47b547" stroke-width="2.7" stroke-linejoin="round"/><polyline points="1243.0,914.2 1247.6,951.1 1250.7,972.6 1252.2,997.2 1256.9,1027.9 1258.4,1058.7 1261.5,1089.4 1264.5,1120.1 1266.1,1150.9 1267.6,1181.6 1270.7,1212.3 1273.8,1243.0 1275.3,1273.8 1276.8,1331.9" fill="none" stroke="#f28023" stroke-width="2.7" stroke-linejoin="round"/><polyline points="1259.9,914.2 1263.0,951.1 1266.1,997.2 1268.2,1027.9 1270.1,1058.7 1272.2,1089.4 1273.8,1120.1 1275.3,1150.9 1276.8,1181.6 1278.4,1212.3 1279.3,1243.0 1280.5,1331.9" fill="none" stroke="#e2232b" stroke-width="2.7" stroke-linejoin="round"/></svg></body></html>
